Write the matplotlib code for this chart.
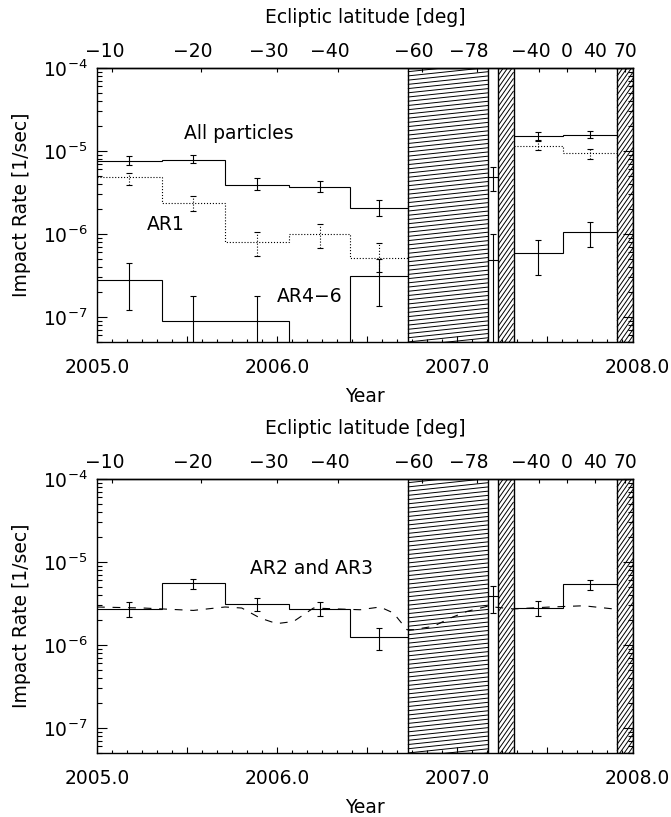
import numpy as np
import matplotlib.pyplot as plt
from matplotlib.collections import LineCollection
from matplotlib.patches import Rectangle
from matplotlib.ticker import MultipleLocator, LogLocator, NullFormatter, NullLocator

plt.rcParams['font.family'] = ['DejaVu Sans']
plt.rcParams['mathtext.fontset'] = 'dejavusans'

FS = 13.5
LW = 0.8
X_MIN, X_MAX = 2005.0, 2007.976
Y_MIN, Y_MAX = 5e-8, 1e-4

# bin edges of the three observing windows
edges_left = [2005.0, 2005.359, 2005.711, 2006.067, 2006.406, 2006.726]
edges_gap = [2007.171, 2007.229]
edges_right = [2007.313, 2007.587, 2007.887]

# periods without data (hatched)
gap_wide = (2006.726, 2007.171)
gaps_narrow = [(2007.229, 2007.313), (2007.887, X_MAX)]

# all particles
all_left = [7.6e-6, 7.8e-6, 3.9e-6, 3.7e-6, 2.04e-6]
all_left_lo = [6.8e-6, 7.2e-6, 3.4e-6, 3.2e-6, 1.63e-6]
all_left_hi = [8.6e-6, 8.85e-6, 4.7e-6, 4.4e-6, 2.6e-6]
all_gap, all_gap_lo, all_gap_hi = [4.9e-6], [3.3e-6], [6.5e-6]
all_right = [1.5e-5, 1.58e-5]
all_right_lo = [1.37e-5, 1.43e-5]
all_right_hi = [1.68e-5, 1.74e-5]

# AR1
ar1_left = [4.8e-6, 2.36e-6, 8.0e-7, 1.01e-6, 5.2e-7]
ar1_left_lo = [3.9e-6, 1.87e-6, 5.37e-7, 6.76e-7, 3.5e-7]
ar1_left_hi = [5.4e-6, 2.84e-6, 1.07e-6, 1.32e-6, 7.8e-7]
ar1_right = [1.16e-5, 9.35e-6]
ar1_right_lo = [1.02e-5, 8.1e-6]
ar1_right_hi = [1.31e-5, 1.06e-5]

# AR4-6 (0 = no impacts)
ar46_left = [2.78e-7, 8.9e-8, 8.9e-8, 0.0, 3.15e-7]
ar46_left_lo = [1.2e-7, 0.0, 0.0, np.nan, 1.34e-7]
ar46_left_hi = [4.47e-7, 1.81e-7, 1.81e-7, np.nan, 5.0e-7]
ar46_gap, ar46_gap_lo, ar46_gap_hi = [4.9e-7], [0.0], [1.0e-6]
ar46_right = [5.9e-7, 1.05e-6]
ar46_right_lo = [3.24e-7, 6.97e-7]
ar46_right_hi = [8.5e-7, 1.38e-6]

# AR2 and AR3
ar23_left = [2.74e-6, 5.58e-6, 3.15e-6, 2.74e-6, 1.25e-6]
ar23_left_lo = [2.17e-6, 4.76e-6, 2.54e-6, 2.25e-6, 8.8e-7]
ar23_left_hi = [3.26e-6, 6.24e-6, 3.64e-6, 3.3e-6, 1.6e-6]
ar23_gap, ar23_gap_lo, ar23_gap_hi = [3.86e-6], [2.43e-6], [5.2e-6]
ar23_right = [2.79e-6, 5.43e-6]
ar23_right_lo = [2.21e-6, 4.64e-6]
ar23_right_hi = [3.35e-6, 6.12e-6]

# model rate for AR2 and AR3
model_t = [2005.0, 2005.257, 2005.535, 2005.711, 2005.804, 2005.906, 2005.998,
           2006.091, 2006.202, 2006.332, 2006.461, 2006.572, 2006.646, 2006.721,
           2006.757, 2006.868, 2006.961, 2007.054, 2007.165, 2007.313, 2007.517,
           2007.702, 2007.868]
model_rate = [2.87e-6, 2.79e-6, 2.61e-6, 2.87e-6, 2.79e-6, 2.11e-6, 1.81e-6,
              1.92e-6, 2.79e-6, 2.72e-6, 2.66e-6, 2.87e-6, 2.43e-6, 1.53e-6,
              1.53e-6, 1.68e-6, 2.11e-6, 2.54e-6, 2.92e-6, 2.72e-6, 2.87e-6,
              2.97e-6, 2.72e-6]

# ecliptic latitude along the orbit
lat_pos = [2005.085, 2005.576, 2005.998, 2006.337, 2006.803, 2007.108,
           2007.452, 2007.609, 2007.767, 2007.933]
lat_labels = ['\u221210', '\u221220', '\u221230', '\u221240', '\u221260', '\u221278',
              '\u221240', '0', '40', '70']
year_ticks = [2005.0, 2006.0, 2007.0, 2008.0]

W, H = 671, 817
fig = plt.figure(figsize=(W / 100, H / 100), dpi=100)
ax_top = fig.add_axes([97 / W, 1 - 342 / H, 536 / W, 274 / H])
ax_bot = fig.add_axes([97 / W, 1 - 753 / H, 536 / W, 274 / H])


def hatch_band(ax, x0, x1, angle, step_px, lw=0.7):
    pos = ax.get_position()
    w = pos.width * fig.get_figwidth() * fig.dpi
    h = pos.height * fig.get_figheight() * fig.dpi
    a0 = (x0 - X_MIN) / (X_MAX - X_MIN)
    a1 = (x1 - X_MIN) / (X_MAX - X_MIN)
    t = np.tan(np.radians(angle))
    dc = step_px / np.cos(np.radians(angle))
    rise = t * (a1 - a0) * w
    cs = np.arange(-abs(rise) - dc, h + abs(rise) + dc, dc)
    segs = [[(a0, c / h), (a1, (c + rise) / h)] for c in cs]
    lc = LineCollection(segs, colors='black', linewidths=lw, transform=ax.transAxes, zorder=2)
    lc.set_clip_path(Rectangle((a0, 0), a1 - a0, 1, transform=ax.transAxes))
    ax.add_collection(lc, autolim=False)
    ax.add_patch(Rectangle((a0, 0), a1 - a0, 1, transform=ax.transAxes,
                           fill=False, edgecolor='black', lw=1.0, zorder=3))


def plot_bins(ax, edges, vals, lo, hi, ls):
    edges = np.asarray(edges)
    vals = np.asarray(vals, dtype=float)
    lo = np.asarray(lo, dtype=float)
    hi = np.asarray(hi, dtype=float)
    centers = 0.5 * (edges[:-1] + edges[1:])
    ax.stairs(vals, edges, baseline=None, color='black', lw=LW, linestyle=ls, zorder=4)
    eb = ax.errorbar(centers, vals, yerr=[vals - lo, hi - vals], fmt='none',
                     ecolor='black', elinewidth=LW, capsize=2.5, capthick=LW, zorder=4)
    if ls != '-':
        for c in eb[2]:
            c.set_linestyle(ls)


def setup_axes(ax):
    ax.set_yscale('log', nonpositive='clip')
    ax.set_xlim(X_MIN, X_MAX)
    ax.set_ylim(Y_MIN, Y_MAX)
    ax.xaxis.set_major_locator(MultipleLocator(0.5))
    ax.xaxis.set_minor_locator(MultipleLocator(1 / 12))
    ax.yaxis.set_major_locator(LogLocator(base=10, numticks=10))
    ax.yaxis.set_minor_locator(LogLocator(base=10, subs=np.arange(2, 10), numticks=20))
    ax.yaxis.set_minor_formatter(NullFormatter())
    ax.tick_params(axis='x', which='major', direction='in', length=4, width=0.8,
                   top=False, labelbottom=False)
    ax.tick_params(axis='x', which='minor', direction='in', length=2, width=0.8, top=False)
    ax.tick_params(axis='y', which='major', direction='in', length=7.5, width=0.8,
                   right=True, labelsize=FS, pad=7)
    ax.tick_params(axis='y', which='minor', direction='in', length=3.6, width=0.8, right=True)
    for sp in ax.spines.values():
        sp.set_linewidth(1.0)

    sec = ax.secondary_xaxis('top')
    sec.set_xticks(lat_pos, labels=[''] * len(lat_pos))
    sec.xaxis.set_minor_locator(NullLocator())
    sec.tick_params(direction='in', length=3, width=0.8)
    sec.spines['top'].set_linewidth(1.0)

    # digits sit on the tick, the minus sign hangs to the left
    for p, lab in zip(lat_pos, lat_labels):
        dx = -0.42 * FS if lab.startswith('\u2212') else 0
        ax.annotate(lab, xy=(p, 1), xycoords=('data', 'axes fraction'), xytext=(dx, 8),
                    textcoords='offset points', ha='center', va='baseline', fontsize=FS)
    for yr in year_ticks:
        ax.annotate(f'{yr:.1f}', xy=(yr, 0), xycoords=('data', 'axes fraction'),
                    xytext=(0, -22.5), textcoords='offset points', ha='center',
                    va='baseline', fontsize=FS)
    ax.annotate('Ecliptic latitude [deg]', xy=(0.5, 1), xycoords='axes fraction',
                xytext=(0, 36.7), textcoords='offset points', ha='center', va='center', fontsize=FS)
    ax.annotate('Year', xy=(0.5, 0), xycoords='axes fraction', xytext=(0, -39),
                textcoords='offset points', ha='center', va='center', fontsize=FS)
    ax.annotate('Impact Rate [1/sec]', xy=(0, 0.5), xycoords='axes fraction', xytext=(-54, 0),
                textcoords='offset points', ha='center', va='center', rotation=90, fontsize=FS)

    hatch_band(ax, gap_wide[0], gap_wide[1], 6, 4.2)
    for g0, g1 in gaps_narrow:
        hatch_band(ax, g0, g1, 55, 3.6)


for ax in (ax_top, ax_bot):
    setup_axes(ax)

# upper panel: all particles, AR1, AR4-6
plot_bins(ax_top, edges_left, all_left, all_left_lo, all_left_hi, '-')
plot_bins(ax_top, edges_gap, all_gap, all_gap_lo, all_gap_hi, '-')
plot_bins(ax_top, edges_right, all_right, all_right_lo, all_right_hi, '-')
plot_bins(ax_top, edges_left, ar1_left, ar1_left_lo, ar1_left_hi, ':')
plot_bins(ax_top, edges_right, ar1_right, ar1_right_lo, ar1_right_hi, ':')
plot_bins(ax_top, edges_left, ar46_left, ar46_left_lo, ar46_left_hi, '-')
plot_bins(ax_top, edges_gap, ar46_gap, ar46_gap_lo, ar46_gap_hi, '-')
plot_bins(ax_top, edges_right, ar46_right, ar46_right_lo, ar46_right_hi, '-')

ax_top.text(2005.789, 1.62e-5, 'All particles', ha='center', va='center', fontsize=FS)
ax_top.text(2005.383, 1.29e-6, 'AR1', ha='center', va='center', fontsize=FS)
ax_top.text(2006.183, 1.77e-7, 'AR4\u22126', ha='center', va='center', fontsize=FS)

# lower panel: AR2 and AR3 with model
plot_bins(ax_bot, edges_left, ar23_left, ar23_left_lo, ar23_left_hi, '-')
plot_bins(ax_bot, edges_gap, ar23_gap, ar23_gap_lo, ar23_gap_hi, '-')
plot_bins(ax_bot, edges_right, ar23_right, ar23_right_lo, ar23_right_hi, '-')
ax_bot.plot(model_t, model_rate, color='black', lw=LW, linestyle=(0, (7, 7)), zorder=4)
ax_bot.text(2006.189, 8.3e-6, 'AR2 and AR3', ha='center', va='center', fontsize=FS)

fig.savefig('out.png', dpi=100)
